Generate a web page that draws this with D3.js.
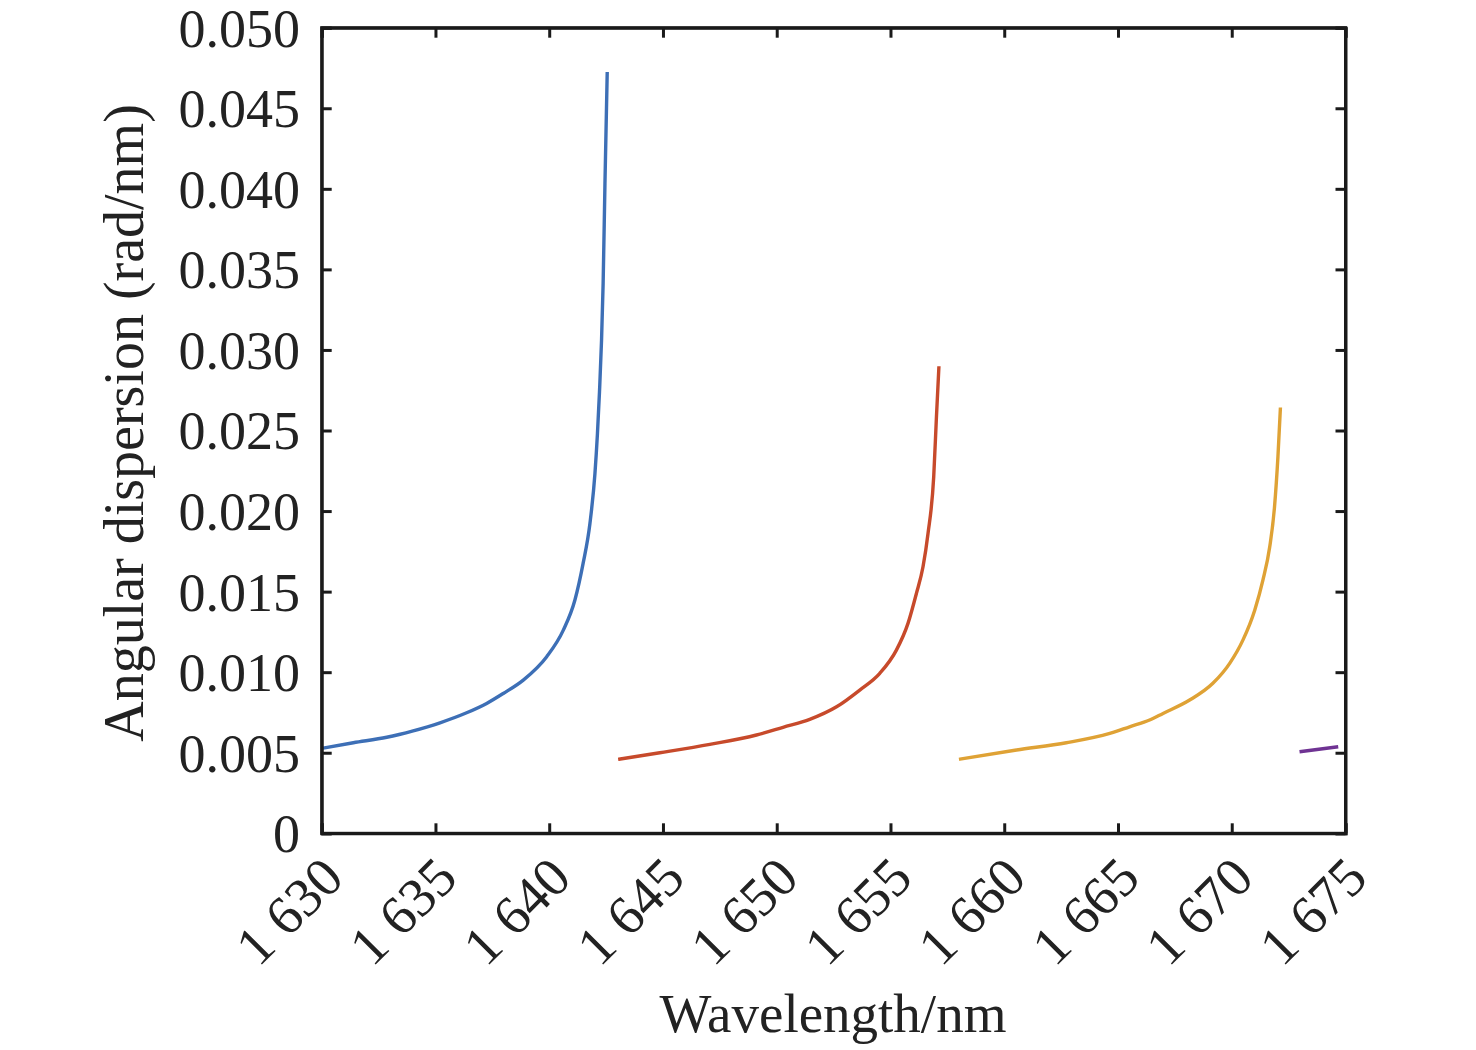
<!DOCTYPE html>
<html>
<head>
<meta charset="utf-8">
<script src="https://cdn.jsdelivr.net/npm/d3@7"></script>
<style>
html,body{margin:0;padding:0;background:#fff;}
text{font-family:"Liberation Serif","Times New Roman",serif;fill:#222;}
</style>
</head>
<body>
<svg id="chart" width="1476" height="1050"></svg>
<script>
const xTicks = [1630,1635,1640,1645,1650,1655,1660,1665,1670,1675];
const xTickLabels = ["1 630","1 635","1 640","1 645","1 650","1 655","1 660","1 665","1 670","1 675"];
const yTicks = [0,0.005,0.010,0.015,0.020,0.025,0.030,0.035,0.040,0.045,0.050];
const yTickLabels = ["0","0.005","0.010","0.015","0.020","0.025","0.030","0.035","0.040","0.045","0.050"];

const blueX = [1630.00,1631.39,1632.86,1634.02,1635.20,1636.37,1637.25,1637.98,1638.86,1639.89,1640.62,1641.13,1641.49,1641.79,1642.01,1642.12,1642.21,1642.30,1642.37,1642.45,1642.55];
const blueY = [0.00527,0.00562,0.00596,0.00636,0.00686,0.00748,0.00806,0.00868,0.00951,0.01096,0.01261,0.01448,0.01675,0.01923,0.02233,0.02480,0.02740,0.03060,0.03412,0.04032,0.04725];
const redX = [1643.03,1644.86,1647.06,1649.11,1650.28,1651.45,1652.63,1653.65,1654.53,1655.26,1655.77,1656.14,1656.43,1656.65,1656.90,1657.02,1657.13];
const redY = [0.00459,0.00500,0.00552,0.00610,0.00658,0.00707,0.00785,0.00889,0.00993,0.01137,0.01303,0.01489,0.01654,0.01861,0.02212,0.02584,0.02899];
const yellowX = [1658.01,1660.54,1662.73,1664.64,1665.51,1666.39,1666.98,1668.15,1669.17,1669.91,1670.49,1671.01,1671.37,1671.67,1671.88,1672.03,1672.14];
const yellowY = [0.00459,0.00517,0.00562,0.00620,0.00661,0.00703,0.00744,0.00827,0.00931,0.01055,0.01199,0.01385,0.01571,0.01778,0.02026,0.02336,0.02643];
const purpleX = [1672.98,1674.68];
const purpleY = [0.00506,0.00537];

const seriesColors = ["#3d6fb6","#c74a2b","#dfa235","#6f3393"];

const svg = d3.select("#chart");
const L = 321.7, R = 1345.5, T = 27.7, B = 833.3;
const x = d3.scaleLinear().domain([1630,1675]).range([L,R]);
const y = d3.scaleLinear().domain([0,0.05]).range([B,T]);

const series = [
  {xs: blueX, ys: blueY},
  {xs: redX, ys: redY},
  {xs: yellowX, ys: yellowY},
  {xs: purpleX, ys: purpleY}
];
const line = d3.line().x(d=>x(d[0])).y(d=>y(d[1])).curve(d3.curveMonotoneX);
series.forEach((s,i)=>{
  svg.append("path")
    .datum(s.xs.map((v,j)=>[v,s.ys[j]]))
    .attr("d", line)
    .attr("fill","none")
    .attr("stroke", seriesColors[i])
    .attr("stroke-width", 3.4)
    .attr("stroke-linejoin","round");
});

const tickLen = 10;
const gB = svg.append("g").attr("transform",`translate(0,${B})`)
  .call(d3.axisBottom(x).tickValues(xTicks).tickSize(-tickLen).tickFormat(""));
const gT = svg.append("g").attr("transform",`translate(0,${T})`)
  .call(d3.axisTop(x).tickValues(xTicks).tickSize(-tickLen).tickFormat(""));
const gL = svg.append("g").attr("transform",`translate(${L},0)`)
  .call(d3.axisLeft(y).tickValues(yTicks).tickSize(-tickLen).tickFormat(""));
const gR = svg.append("g").attr("transform",`translate(${R},0)`)
  .call(d3.axisRight(y).tickValues(yTicks).tickSize(-tickLen).tickFormat(""));
[gB,gT,gL,gR].forEach(g=>{
  g.selectAll(".domain").attr("stroke","#1a1a1a").attr("stroke-width",3);
  g.selectAll(".tick line").attr("stroke","#1a1a1a").attr("stroke-width",3);
});
svg.append("rect").attr("x",L).attr("y",T).attr("width",R-L).attr("height",B-T)
  .attr("fill","none").attr("stroke","#1a1a1a").attr("stroke-width",3);

svg.append("g").selectAll("text").data(yTicks).join("text")
  .attr("x", 300).attr("y", d=>y(d)).attr("dy","0.35em")
  .attr("text-anchor","end").attr("font-size",54)
  .text((d,i)=>yTickLabels[i]);

svg.append("g").selectAll("text").data(xTicks).join("text")
  .attr("transform", d=>`translate(${x(d)-3},${B+20}) rotate(-45)`)
  .attr("text-anchor","end").attr("dy","0.7em").attr("font-size",55)
  .text((d,i)=>xTickLabels[i]);

svg.append("text").attr("x", 833).attr("y", 1032).attr("text-anchor","middle")
  .attr("font-size",55).text("Wavelength/nm");
svg.append("text").attr("transform",`translate(143,423) rotate(-90)`)
  .attr("text-anchor","middle").attr("font-size",56).text("Angular dispersion (rad/nm)");
</script>
</body>
</html>
